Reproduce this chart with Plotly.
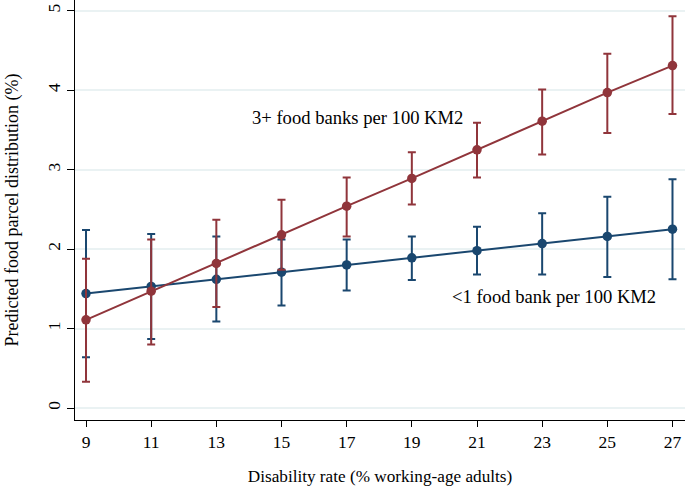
import plotly.graph_objects as go

disability = [9, 11, 13, 15, 17, 19, 21, 23, 25, 27]

low_fb = [1.44, 1.53, 1.62, 1.71, 1.80, 1.89, 1.98, 2.07, 2.16, 2.25]
low_fb_lo = [0.64, 0.87, 1.09, 1.29, 1.48, 1.61, 1.68, 1.68, 1.65, 1.62]
low_fb_hi = [2.24, 2.19, 2.16, 2.12, 2.12, 2.16, 2.28, 2.45, 2.66, 2.88]

high_fb = [1.11, 1.47, 1.82, 2.18, 2.54, 2.89, 3.25, 3.61, 3.97, 4.31]
high_fb_lo = [0.33, 0.80, 1.27, 1.74, 2.16, 2.56, 2.90, 3.19, 3.46, 3.70]
high_fb_hi = [1.88, 2.12, 2.37, 2.62, 2.90, 3.22, 3.59, 4.01, 4.46, 4.93]

x_ticks = [9, 11, 13, 15, 17, 19, 21, 23, 25, 27]
y_ticks = [0, 1, 2, 3, 4, 5]

label_high = "3+ food banks per 100 KM2"
label_low = "<1 food bank per 100 KM2"
x_title = "Disability rate (% working-age adults)"
y_title = "Predicted food parcel distribution (%)"

NAVY = "#1A476F"
MAROON = "#90353B"
FONT = "Liberation Serif, Times New Roman, serif"


def series(y, lo, hi, color, name):
    return go.Scatter(
        x=disability, y=y, name=name, mode="lines+markers",
        line=dict(color=color, width=2),
        marker=dict(color=color, size=9.5),
        error_y=dict(type="data", symmetric=False,
                     array=[h - v for h, v in zip(hi, y)],
                     arrayminus=[v - l for l, v in zip(lo, y)],
                     color=color, thickness=2, width=4),
        showlegend=False,
        cliponaxis=False,
    )


fig = go.Figure()
fig.add_trace(series(low_fb, low_fb_lo, low_fb_hi, NAVY, label_low))
fig.add_trace(series(high_fb, high_fb_lo, high_fb_hi, MAROON, label_high))

fig.add_annotation(x=17.32, y=3.66, text=label_high, showarrow=False,
                   font=dict(family=FONT, size=18.6, color="black"))
fig.add_annotation(x=23.36, y=1.40, text=label_low, showarrow=False,
                   font=dict(family=FONT, size=18.6, color="black"))

fig.update_layout(
    width=685, height=486,
    margin=dict(l=75, r=0, t=0, b=66),
    paper_bgcolor="white", plot_bgcolor="white",
    font=dict(family=FONT, size=17.5, color="black"),
    xaxis=dict(
        range=[8.662, 27.384], tickvals=x_ticks, ticktext=[str(v) for v in x_ticks],
        showgrid=False, zeroline=False, showline=True, linecolor="black", linewidth=1.2,
        ticks="outside", ticklen=6, tickcolor="black", tickwidth=1.2,
        tickfont=dict(family=FONT, size=17.5),
        title=dict(text=x_title, font=dict(family=FONT, size=17.2), standoff=22),
    ),
    yaxis=dict(
        range=[-0.151, 5.135], tickvals=y_ticks, ticktext=[str(v) for v in y_ticks],
        showgrid=True, gridcolor="#EAF2F3", gridwidth=1.5,
        zeroline=False, showline=True, linecolor="black", linewidth=1.2,
        ticks="outside", ticklen=7, tickcolor="black", tickwidth=1.2,
        tickangle=-90, tickfont=dict(family=FONT, size=17.5),
        title=dict(text=y_title, font=dict(family=FONT, size=18), standoff=20),
    ),
)

fig.write_html("out.html", config={"displayModeBar": False},
               post_script="document.body.style.margin='0';document.body.style.overflow='hidden';")
